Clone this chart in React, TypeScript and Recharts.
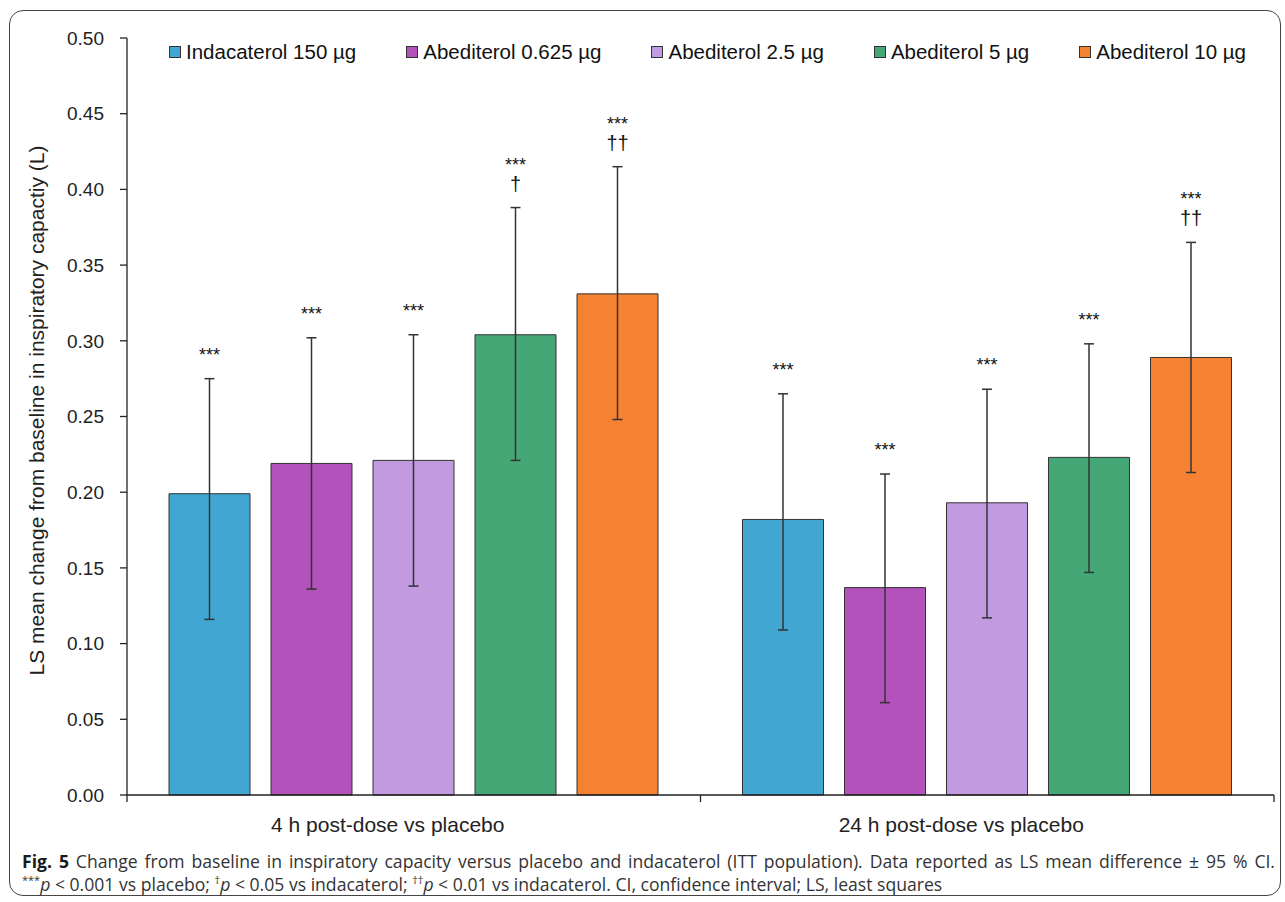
import React from 'react';
import { BarChart, Bar, XAxis, YAxis, ErrorBar, LabelList, Legend } from 'recharts';

const categories = ['4 h post-dose vs placebo', '24 h post-dose vs placebo'];
const seriesNames = ['Indacaterol 150 µg', 'Abediterol 0.625 µg', 'Abediterol 2.5 µg', 'Abediterol 5 µg', 'Abediterol 10 µg'];
const seriesColors = ['#41a6d1', '#b252ba', '#c29ae0', '#45a775', '#f58232'];

const indacaterol150 = [0.199, 0.182];
const abediterol0625 = [0.219, 0.137];
const abediterol25 = [0.221, 0.193];
const abediterol5 = [0.304, 0.223];
const abediterol10 = [0.331, 0.289];

const ciLowIndacaterol150 = [0.116, 0.109];
const ciLowAbediterol0625 = [0.136, 0.061];
const ciLowAbediterol25 = [0.138, 0.117];
const ciLowAbediterol5 = [0.221, 0.147];
const ciLowAbediterol10 = [0.248, 0.213];

const ciHighIndacaterol150 = [0.275, 0.265];
const ciHighAbediterol0625 = [0.302, 0.212];
const ciHighAbediterol25 = [0.304, 0.268];
const ciHighAbediterol5 = [0.388, 0.298];
const ciHighAbediterol10 = [0.415, 0.365];

const placeboMarks = [['***', '***'], ['***', '***'], ['***', '***'], ['***', '***'], ['***', '***']];
const indacaterolMarks = [['', ''], ['', ''], ['', ''], ['†', ''], ['††', '††']];

const yTicks = [0, 0.05, 0.1, 0.15, 0.2, 0.25, 0.3, 0.35, 0.4, 0.45, 0.5];

const values = [indacaterol150, abediterol0625, abediterol25, abediterol5, abediterol10];
const ciLow = [ciLowIndacaterol150, ciLowAbediterol0625, ciLowAbediterol25, ciLowAbediterol5, ciLowAbediterol10];
const ciHigh = [ciHighIndacaterol150, ciHighAbediterol0625, ciHighAbediterol25, ciHighAbediterol5, ciHighAbediterol10];

const data = categories.map((category, ci) => {
  const row: any = { category };
  values.forEach((arr, si) => {
    row['s' + si] = arr[ci];
    row['e' + si] = [arr[ci] - ciLow[si][ci], ciHigh[si][ci] - arr[ci]];
    row['h' + si] = ciHigh[si][ci];
  });
  return row;
});

const FONT = '"Liberation Sans", Arial, Helvetica, sans-serif';

const makeAnnotation = (si: number) => (props: any) => {
  const { x, y, width, height, index } = props;
  const v = values[si][index];
  const hi = ciHigh[si][index];
  const perUnit = height / v;
  const top = y + height - hi * perUnit;
  const cx = x + width / 2;
  const dag = indacaterolMarks[si][index];
  return (
    <g>
      {dag ? (
        <text x={cx} y={top - 17} textAnchor="middle" fontSize={20} fill="#111" fontFamily={FONT}>
          {dag}
        </text>
      ) : null}
      <text x={cx} y={dag ? top - 37 : top - 18} textAnchor="middle" fontSize={18} fill="#111" fontFamily={FONT}>
        {placeboMarks[si][index]}
      </text>
    </g>
  );
};

const CategoryTick = (props: any) => {
  const { x, y, payload, width, visibleTicksCount, index } = props;
  const count = visibleTicksCount || categories.length;
  const band = Number(width) / count;
  const left = x - band / 2;
  const right = x + band / 2;
  return (
    <g>
      {Number.isFinite(band) ? <line x1={left} x2={left} y1={y} y2={y + 7} stroke="#222" strokeWidth={1.3} /> : null}
      {Number.isFinite(band) && index === count - 1 ? <line x1={right} x2={right} y1={y} y2={y + 7} stroke="#222" strokeWidth={1.3} /> : null}
      <text x={x - 26} y={y + 37} textAnchor="middle" fontSize={21} fill="#222" fontFamily={FONT}>
        {payload.value}
      </text>
    </g>
  );
};

const LegendContent = () => (
  <div style={{ display: 'flex', alignItems: 'center', fontFamily: FONT, fontSize: 20.5, color: '#111', whiteSpace: 'nowrap' }}>
    {seriesNames.map((n, i) => (
      <div key={n} style={{ display: 'flex', alignItems: 'center', marginRight: i < seriesNames.length - 1 ? 50 : 0 }}>
        <span style={{ display: 'inline-block', width: 10, height: 10, background: seriesColors[i], border: '1px solid #333', marginRight: 5 }} />
        <span>{n}</span>
      </div>
    ))}
  </div>
);

const YLabel = (props: any) => {
  const vb = props.viewBox || {};
  const cx = 36;
  const cy = vb.y + vb.height / 2 - 6;
  return (
    <text x={cx} y={cy} transform={`rotate(-90, ${cx}, ${cy})`} textAnchor="middle" dominantBaseline="central" fontSize={21} fill="#222" fontFamily={FONT}>
      LS mean change from baseline in inspiratory capactiy (L)
    </text>
  );
};

export default function App() {
  return (
    <div style={{ position: 'absolute', left: 0, top: 0, width: 1285, height: 902, background: '#fff', overflow: 'hidden' }}>
      <div style={{ position: 'absolute', left: 9, top: 10, width: 1272, height: 886, border: '1.5px solid #444', borderRadius: 14, boxSizing: 'border-box' }} />
      <div style={{ position: 'absolute', left: 0, top: 0 }}>
        <BarChart width={1285} height={850} data={data} margin={{ top: 38, right: 11, left: 0, bottom: 0 }} barCategoryGap={42} barGap={21}>
          <XAxis dataKey="category" tickLine={false} tickSize={0} tickMargin={0} axisLine={{ stroke: '#222', strokeWidth: 1.3 }} height={55} tick={<CategoryTick />} interval={0} />
          <YAxis domain={[0, 0.5]} ticks={yTicks} width={127} tickSize={7} tickMargin={16} tickFormatter={(v: number) => v.toFixed(2)} axisLine={{ stroke: '#222', strokeWidth: 1.3 }} tickLine={{ stroke: '#222', strokeWidth: 1.3 }} tick={{ fontSize: 19, fill: '#222', fontFamily: FONT }} label={<YLabel />} />
          <Legend layout="horizontal" verticalAlign="middle" align="center" content={<LegendContent />} wrapperStyle={{ top: 40, left: 169, width: 1100, height: 26 }} />
          {seriesNames.map((n, si) => (
            <Bar key={n} dataKey={'s' + si} name={n} fill={seriesColors[si]} stroke="#333" strokeWidth={1} isAnimationActive={false}>
              <ErrorBar dataKey={'e' + si} width={5} stroke="#333" strokeWidth={1.5} direction="y" isAnimationActive={false} />
              <LabelList dataKey={'h' + si} content={makeAnnotation(si)} />
            </Bar>
          ))}
        </BarChart>
      </div>
      <div style={{ position: 'absolute', left: 22, top: 849, width: 1253, fontFamily: '"Open Sans", "Noto Sans", sans-serif', fontSize: 17.6, color: '#333', lineHeight: '24px' }}>
        <div style={{ textAlign: 'justify', textAlignLast: 'justify', whiteSpace: 'nowrap' }}>
          <b style={{ color: '#1a1a1a' }}>Fig. 5</b> Change from baseline in inspiratory capacity versus placebo and indacaterol (ITT population). Data reported as LS mean difference ± 95 % CI.
        </div>
        <div style={{ whiteSpace: 'nowrap', lineHeight: '22px' }}>
          <sup style={{ fontSize: 11, lineHeight: 0 }}>***</sup><i>p</i> &lt; 0.001 vs placebo; <sup style={{ fontSize: 11, lineHeight: 0 }}>†</sup><i>p</i> &lt; 0.05 vs indacaterol; <sup style={{ fontSize: 11, lineHeight: 0 }}>††</sup><i>p</i> &lt; 0.01 vs indacaterol. CI, confidence interval; LS, least squares
        </div>
      </div>
    </div>
  );
}
